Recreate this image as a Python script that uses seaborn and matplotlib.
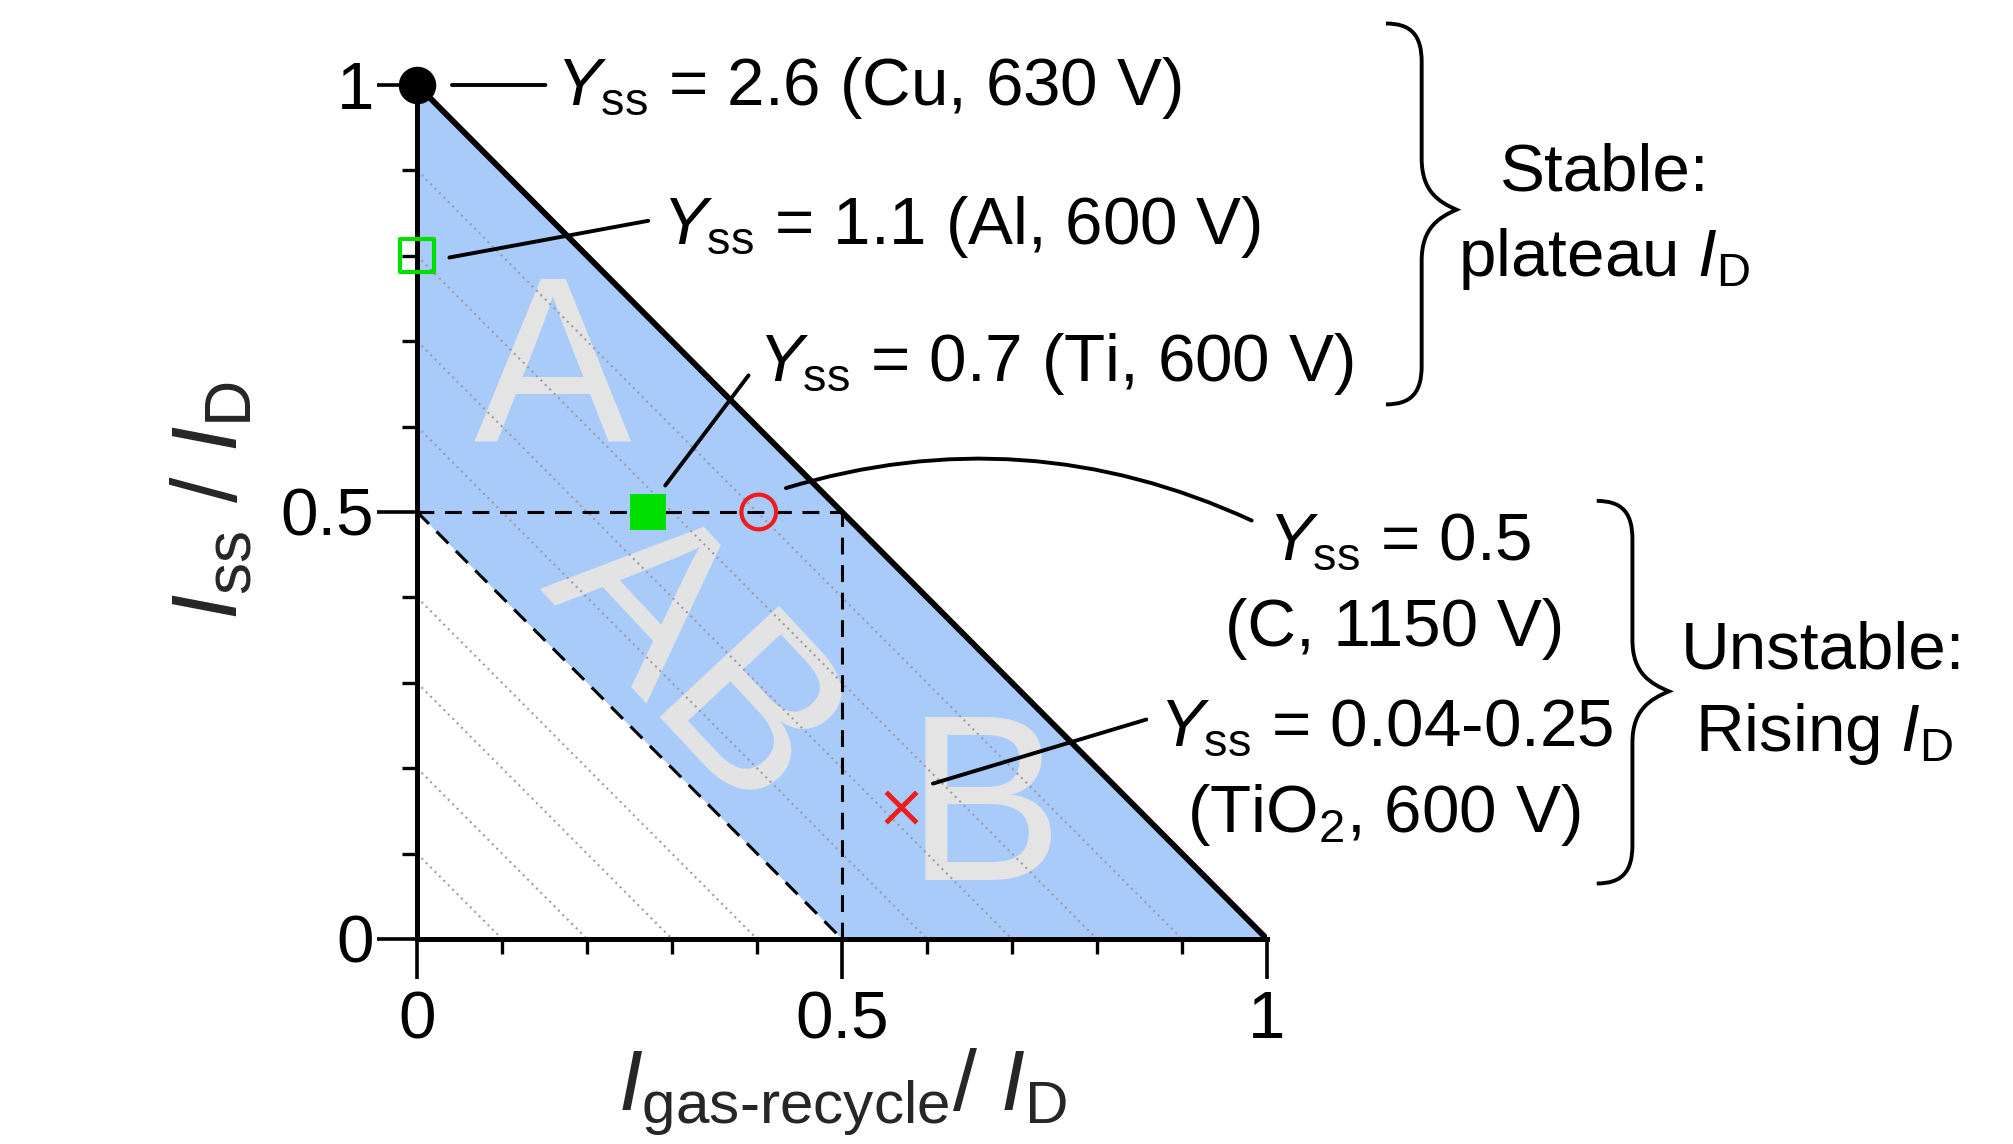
import numpy as np
import pandas as pd
import matplotlib
matplotlib.use("Agg")
import matplotlib.pyplot as plt
from matplotlib.path import Path
from matplotlib.patches import PathPatch
import seaborn as sns

# ---------------- data ----------------
outer_x = [0.0, 1.0]          # I_ss/I_D + I_gas/I_D = 1
outer_y = [1.0, 0.0]
inner_x = [0.0, 0.5]          # I_ss/I_D + I_gas/I_D = 0.5
inner_y = [0.5, 0.0]
hatch_levels = [0.1, 0.2, 0.3, 0.4, 0.6, 0.7, 0.8, 0.9]

point_names = ["Cu", "Al", "Ti", "C", "TiO2"]
point_x = [0.0, 0.0, 0.272, 0.402, 0.569]
point_y = [1.0, 0.8, 0.5, 0.5, 0.155]

major_ticks = [0, 0.5, 1]
major_labels = ["0", "0.5", "1"]
minor_ticks = [0.1, 0.2, 0.3, 0.4, 0.6, 0.7, 0.8, 0.9]

region_labels = ["A", "AB", "B"]

# ---------------- style ----------------
sns.set_theme(style="white")
plt.rcParams["font.family"] = ["Liberation Sans", "DejaVu Sans"]
plt.rcParams["mathtext.fontset"] = "custom"
plt.rcParams["mathtext.rm"] = "Liberation Sans"
plt.rcParams["mathtext.it"] = "Liberation Sans:italic"
plt.rcParams["mathtext.bf"] = "Liberation Sans:bold"

FS = 48.5
BLUE = "#a8cbfa"
GREEN = "#00e000"
RED = "#ee1c1c"
LETTER = "#e4e4e4"

fig = plt.figure(figsize=(20.13, 11.44), dpi=100)
ax = fig.add_axes([0.2072, 0.1792, 0.4222, 0.7465])
ax.set_xlim(0, 1)
ax.set_ylim(0, 1)

# blue band
ax.fill(outer_x + inner_x[::-1], outer_y + inner_y[::-1], color=BLUE, lw=0, zorder=1)

# big region letters
ax.text(0.159, 0.655, region_labels[0], fontsize=170, color=LETTER, ha="center", va="center", zorder=2)
ax.text(0.322, 0.325, region_labels[1], fontsize=170, color=LETTER, ha="center", va="center",
        rotation=-47, rotation_mode="anchor", zorder=2)
ax.text(0.668, 0.140, region_labels[2], fontsize=170, color=LETTER, ha="center", va="center", zorder=2)

# dotted hatch lines x + y = c
for c in hatch_levels:
    ax.plot([0, c], [c, 0], color="#a09aa4", lw=1.5, ls=(0, (1, 2.0)), zorder=3)

# boundaries
ax.plot(outer_x, outer_y, color="black", lw=4.2, zorder=4, solid_capstyle="butt")
ax.plot(inner_x, inner_y, color="black", lw=2.2, ls=(0, (5.5, 3.5)), zorder=4)
ax.plot([0, 0.5], [0.5, 0.5], color="black", lw=2.2, ls=(0, (5.5, 3.5)), zorder=4)
ax.plot([0.5, 0.5], [0, 0.5], color="black", lw=2.2, ls=(0, (5.5, 3.5)), zorder=4)

# markers
pts = pd.DataFrame({"name": point_names, "x": point_x, "y": point_y})
styles = {
    "Cu": dict(marker="o", s=27**2, color="black", edgecolor="black", linewidth=0),
    "Al": dict(marker="s", s=24**2, color=GREEN, facecolor="none", edgecolor=GREEN, linewidth=3.0),
    "Ti": dict(marker="s", s=26**2, color=GREEN, edgecolor=GREEN, linewidth=0),
    "C": dict(marker="o", s=25**2, color=RED, facecolor="none", edgecolor=RED, linewidth=3.0),
    "TiO2": dict(marker="x", s=22**2, color=RED, linewidth=3.5),
}
for _, r in pts.iterrows():
    sns.scatterplot(data=pts[pts["name"] == r["name"]], x="x", y="y", ax=ax,
                    clip_on=False, zorder=6, legend=False, **styles[r["name"]])
ax.set_xlabel("")
ax.set_ylabel("")

# leader lines
def leader(x0, y0, x1, y1, rad=0.0):
    ax.annotate("", xy=(x0, y0), xytext=(x1, y1), xycoords="data", textcoords="data",
                annotation_clip=False, zorder=7,
                arrowprops=dict(arrowstyle="-", lw=2.8, color="black", shrinkA=0, shrinkB=0,
                                connectionstyle=f"arc3,rad={rad}"))

leader(0.041, 1.0, 0.151, 1.0)
leader(0.038, 0.798, 0.272, 0.841)
leader(0.292, 0.531, 0.390, 0.660)
leader(0.434, 0.528, 0.982, 0.490, rad=0.19)
leader(0.607, 0.182, 0.858, 0.257)

tk = dict(fontsize=FS, color="black", clip_on=False, zorder=8)
ax.text(0.164, 0.976, r"$Y_{\mathrm{ss}}$ = 2.6 (Cu, 630 V)", ha="left", va="baseline", **tk)
ax.text(0.288, 0.814, r"$Y_{\mathrm{ss}}$ = 1.1 (Al, 600 V)", ha="left", va="baseline", **tk)
ax.text(0.401, 0.653, r"$Y_{\mathrm{ss}}$ = 0.7 (Ti, 600 V)", ha="left", va="baseline", **tk)
ax.text(1.156, 0.444, r"$Y_{\mathrm{ss}}$ = 0.5", ha="center", va="baseline", **tk)
ax.text(1.150, 0.343, "(C, 1150 V)", ha="center", va="baseline", **tk)
ax.text(1.140, 0.227, r"$Y_{\mathrm{ss}}$ = 0.04-0.25", ha="center", va="baseline", **tk)
ax.text(1.137, 0.125, r"(TiO$_2$, 600 V)", ha="center", va="baseline", **tk)

ax.text(1.397, 0.877, "Stable:", ha="center", va="baseline", **tk)
ax.text(1.397, 0.776, r"plateau $I_{\mathrm{D}}$", ha="center", va="baseline", **tk)
ax.text(1.654, 0.317, "Unstable:", ha="center", va="baseline", **tk)
ax.text(1.656, 0.220, r"Rising $I_{\mathrm{D}}$", ha="center", va="baseline", **tk)

# curly braces
def brace(x_end, x_stem, x_tip, y_top, y_tip, y_bot, hy=0.045, ty=0.06):
    verts = [
        (x_end, y_top),
        (x_end + 0.7 * (x_stem - x_end), y_top), (x_stem, y_top - 0.3 * hy), (x_stem, y_top - hy),
        (x_stem, y_tip + ty),
        (x_stem, y_tip + 0.35 * ty), (x_tip - 0.5 * (x_tip - x_stem), y_tip + 0.15 * ty), (x_tip, y_tip),
        (x_tip - 0.5 * (x_tip - x_stem), y_tip - 0.15 * ty), (x_stem, y_tip - 0.35 * ty), (x_stem, y_tip - ty),
        (x_stem, y_bot + hy),
        (x_stem, y_bot + 0.3 * hy), (x_end + 0.7 * (x_stem - x_end), y_bot), (x_end, y_bot),
    ]
    codes = [Path.MOVETO, Path.CURVE4, Path.CURVE4, Path.CURVE4, Path.LINETO,
             Path.CURVE4, Path.CURVE4, Path.CURVE4, Path.CURVE4, Path.CURVE4, Path.CURVE4,
             Path.LINETO, Path.CURVE4, Path.CURVE4, Path.CURVE4]
    ax.add_patch(PathPatch(Path(verts, codes), fill=False, lw=2.8, color="black",
                           clip_on=False, zorder=8))

brace(1.140, 1.182, 1.223, 1.072, 0.854, 0.626)
brace(1.388, 1.430, 1.473, 0.513, 0.290, 0.065)

# axes styling
for s in ["top", "right"]:
    ax.spines[s].set_visible(False)
for s in ["left", "bottom"]:
    ax.spines[s].set_linewidth(3.6)
    ax.spines[s].set_color("black")
    ax.spines[s].set_zorder(5)
ax.set_xticks(major_ticks)
ax.set_xticklabels(major_labels)
ax.set_yticks(major_ticks)
ax.set_yticklabels(major_labels)
ax.set_xticks(minor_ticks, minor=True)
ax.set_yticks(minor_ticks, minor=True)
ax.tick_params(axis="both", which="major", direction="out", length=29, width=2.6,
               color="black", labelsize=FS, labelcolor="black")
ax.tick_params(axis="x", which="major", pad=8)
ax.tick_params(axis="y", which="major", pad=2)
ax.tick_params(axis="both", which="minor", direction="out", length=11, width=2.4, color="black")
ax.tick_params(axis="both", bottom=True, left=True)
ax.tick_params(axis="both", which="minor", bottom=True, left=True)
ax.grid(False)
ax.set_facecolor("white")

ax.text(0.5, -0.200, r"$I_{\text{gas-recycle}}$/ $I_{\mathrm{D}}$", fontsize=62, ha="center",
        va="baseline", transform=ax.transData, clip_on=False)
ax.text(-0.211, 0.513, r"$I_{\mathrm{ss}}$ / $I_{\mathrm{D}}$", fontsize=66, ha="center",
        va="baseline", rotation=90, rotation_mode="anchor", clip_on=False)

fig.savefig("out.png", dpi=100, facecolor="white")
